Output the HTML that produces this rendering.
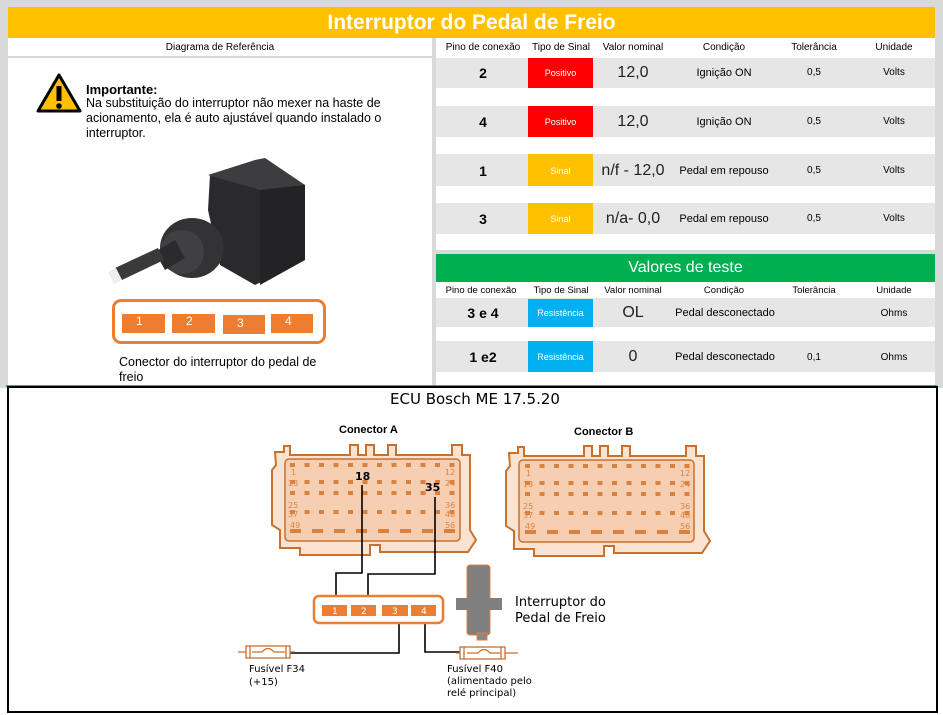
<!DOCTYPE html>
<html><head><meta charset="utf-8"><style>
body{margin:0;width:943px;height:715px;background:#fff;position:relative;overflow:hidden;font-family:"Liberation Sans",sans-serif}
.a{position:absolute}
.c{position:absolute;text-align:center}
.row{position:absolute;left:436px;width:499px;background:#e6e6e6}
.h{font-size:10px;top:42px}
</style></head><body>
<div class="a" style="left:0;top:0;width:943px;height:388px;background:#d9d9d9"></div>
<div class="a" style="left:8px;top:7px;width:927px;height:31px;background:#ffc000;color:#fff;font-size:21px;font-weight:bold;text-align:center;line-height:31px">Interruptor do Pedal de Freio</div>
<div class="a" style="left:8px;top:38px;width:424px;height:18px;background:#fff"></div>
<div class="a" style="left:436px;top:38px;width:499px;height:18px;background:#fff"></div>
<div class="a" style="left:8px;top:58px;width:424px;height:328px;background:#fff"></div>
<div class="a" style="left:436px;top:56px;width:499px;height:194px;background:#fff"></div>
<div class="c h" style="left:8px;width:424px">Diagrama de Referência</div>
<div class="c h" style="left:436px;width:94px">Pino de conexão</div>
<div class="c h" style="left:528px;width:66px">Tipo de Sinal</div>
<div class="c h" style="left:596px;width:74px">Valor nominal</div>
<div class="c h" style="left:680px;width:88px">Condição</div>
<div class="c h" style="left:780px;width:68px">Tolerância</div>
<div class="c h" style="left:860px;width:68px">Unidade</div>

<div class="row" style="top:58px;height:30px"></div>
<div class="row" style="top:106px;height:31px"></div>
<div class="row" style="top:154px;height:32px"></div>
<div class="row" style="top:203px;height:31px"></div>
<div class="a" style="left:528px;top:58px;width:65px;height:30px;background:#f00"></div>
<div class="a" style="left:528px;top:106px;width:65px;height:31px;background:#f00"></div>
<div class="a" style="left:528px;top:154px;width:65px;height:32px;background:#ffc000"></div>
<div class="a" style="left:528px;top:203px;width:65px;height:31px;background:#ffc000"></div>
<div style="font-size:14px;font-weight:bold">
<div class="c" style="left:436px;width:94px;top:65px">2</div>
<div class="c" style="left:436px;width:94px;top:114px">4</div>
<div class="c" style="left:436px;width:94px;top:163px">1</div>
<div class="c" style="left:436px;width:94px;top:211px">3</div></div>
<div style="font-size:9px;color:#fff">
<div class="c" style="left:528px;width:65px;top:68px">Positivo</div>
<div class="c" style="left:528px;width:65px;top:117px">Positivo</div>
<div class="c" style="left:528px;width:65px;top:166px">Sinal</div>
<div class="c" style="left:528px;width:65px;top:214px">Sinal</div></div>
<div style="font-size:16px;color:#222">
<div class="c" style="left:596px;width:74px;top:64px">12,0</div>
<div class="c" style="left:596px;width:74px;top:113px">12,0</div>
<div class="c" style="left:596px;width:74px;top:162px">n/f - 12,0</div>
<div class="c" style="left:596px;width:74px;top:210px">n/a- 0,0</div></div>
<div style="font-size:11px">
<div class="c" style="left:674px;width:100px;top:67px">Ignição ON</div>
<div class="c" style="left:674px;width:100px;top:116px">Ignição ON</div>
<div class="c" style="left:674px;width:100px;top:165px">Pedal em repouso</div>
<div class="c" style="left:674px;width:100px;top:213px">Pedal em repouso</div></div>
<div style="font-size:10px">
<div class="c" style="left:780px;width:68px;top:67px">0,5</div>
<div class="c" style="left:780px;width:68px;top:116px">0,5</div>
<div class="c" style="left:780px;width:68px;top:165px">0,5</div>
<div class="c" style="left:780px;width:68px;top:213px">0,5</div>
<div class="c" style="left:860px;width:68px;top:67px">Volts</div>
<div class="c" style="left:860px;width:68px;top:116px">Volts</div>
<div class="c" style="left:860px;width:68px;top:165px">Volts</div>
<div class="c" style="left:860px;width:68px;top:213px">Volts</div></div>

<div class="a" style="left:436px;top:254px;width:499px;height:28px;background:#00b050;color:#fff;font-size:16px;text-align:center;line-height:27px">Valores de teste</div>
<div class="a" style="left:436px;top:282px;width:499px;height:104px;background:#fff"></div>
<div style="font-size:9.5px">
<div class="c" style="left:436px;width:90px;top:285px">Pino de conexão</div>
<div class="c" style="left:528px;width:66px;top:285px">Tipo de Sinal</div>
<div class="c" style="left:596px;width:74px;top:285px">Valor nominal</div>
<div class="c" style="left:680px;width:88px;top:285px">Condição</div>
<div class="c" style="left:780px;width:68px;top:285px">Tolerância</div>
<div class="c" style="left:860px;width:68px;top:285px">Unidade</div></div>
<div class="row" style="top:298px;height:29px"></div>
<div class="row" style="top:341px;height:31px"></div>
<div class="a" style="left:528px;top:299px;width:65px;height:28px;background:#00b0f0"></div>
<div class="a" style="left:528px;top:341px;width:65px;height:31px;background:#00b0f0"></div>
<div class="c" style="left:436px;width:94px;top:305px;font-size:14px;font-weight:bold">3 e 4</div>
<div class="c" style="left:436px;width:94px;top:349px;font-size:14px;font-weight:bold">1 e2</div>
<div class="c" style="left:528px;width:65px;top:308px;font-size:9px;color:#fff">Resistência</div>
<div class="c" style="left:528px;width:65px;top:352px;font-size:9px;color:#fff">Resistência</div>
<div class="c" style="left:596px;width:74px;top:304px;font-size:16px;color:#222">OL</div>
<div class="c" style="left:596px;width:74px;top:348px;font-size:16px;color:#222">0</div>
<div class="c" style="left:664px;width:122px;top:307px;font-size:11px">Pedal desconectado</div>
<div class="c" style="left:664px;width:122px;top:351px;font-size:11px">Pedal desconectado</div>
<div class="c" style="left:780px;width:68px;top:352px;font-size:10px">0,1</div>
<div class="c" style="left:860px;width:68px;top:308px;font-size:10px">Ohms</div>
<div class="c" style="left:860px;width:68px;top:352px;font-size:10px">Ohms</div>

<svg class="a" style="left:36px;top:72px" width="46" height="42"><path d="M23 3 L44 39 L2 39 Z" fill="#ffc000" stroke="#000" stroke-width="3" stroke-linejoin="round"/><rect x="20.5" y="14" width="5" height="15" fill="#000"/><circle cx="23" cy="34" r="2.8" fill="#000"/></svg>
<div class="a" style="left:86px;top:82px;font-size:13px;font-weight:bold">Importante:</div>
<div class="a" style="left:86px;top:96px;font-size:12.5px;line-height:15px;width:320px">Na substituição do interruptor não mexer na haste de acionamento, ela é auto ajustável quando instalado o interruptor.</div>
<svg class="a" style="left:100px;top:140px" width="210" height="150">
<polygon points="110,35 160,22 205,45 205,120 155,145 120,125 108,70" fill="#2a2a2c"/>
<polygon points="108,35 155,20 165,18 205,45 160,50" fill="#3d3d40"/>
<polygon points="160,50 205,45 205,120 160,145" fill="#232325"/>
<ellipse cx="92" cy="108" rx="32" ry="30" fill="#333335"/>
<ellipse cx="82" cy="112" rx="22" ry="22" fill="#404043"/>
<polygon points="55,112 75,100 85,118 65,130" fill="#2b2b2d"/>
<polygon points="15,128 58,108 64,120 22,140" fill="#3a3a3c"/>
<polygon points="8,132 16,128 22,140 14,144" fill="#eee"/>
</svg>
<div class="a" style="left:112px;top:299px;width:214px;height:45px;border:3px solid #ed7d31;border-radius:9px;box-sizing:border-box"></div>
<div style="color:#fff;font-size:12px">
<div class="a" style="left:122px;top:314px;width:43px;height:19px;background:#ed7d31;line-height:15px;padding-left:14px;box-sizing:border-box">1</div>
<div class="a" style="left:172px;top:314px;width:43px;height:19px;background:#ed7d31;line-height:15px;padding-left:14px;box-sizing:border-box">2</div>
<div class="a" style="left:223px;top:315px;width:42px;height:19px;background:#ed7d31;line-height:17px;padding-left:14px;box-sizing:border-box">3</div>
<div class="a" style="left:271px;top:314px;width:42px;height:19px;background:#ed7d31;line-height:15px;padding-left:14px;box-sizing:border-box">4</div></div>
<div class="a" style="left:119px;top:355px;font-size:12.5px;line-height:15px;width:210px">Conector do interruptor do pedal de freio</div>

<div class="a" style="left:6px;top:385px;width:931px;height:2px;background:#00b0f0"></div>
<div class="a" style="left:7px;top:386px;width:931px;height:327px;border:2px solid #000;box-sizing:border-box;background:#fff"></div>
<div class="c" style="left:300px;width:350px;top:390px;font-size:15px;font-family:'DejaVu Sans',sans-serif">ECU Bosch ME 17.5.20</div>
<svg class="a" style="left:0;top:0" width="943" height="715" font-family="DejaVu Sans,sans-serif">
<g>
<path d="M275 452 L284 452 L284 446 L290 446 L290 455 L350 455 L350 445 L358 445 L358 455 L366 455 L366 445 L374 445 L374 455 L388 455 L388 445 L396 445 L396 455 L452 455 L452 445 L462 445 L462 455 L470 455 L470 530 L476 540 L468 552 L380 552 L380 545 L370 545 L370 555 L300 555 L300 548 L280 548 L280 530 L272 525 L272 470 L276 465 Z" fill="#fbe3d2" stroke="#c8712e" stroke-width="2"/>
<rect x="285" y="459" width="175" height="82" rx="4" fill="#f6cfb2" stroke="#c8712e" stroke-width="1.5"/>
</g>
<g transform="translate(234,1)">
<path d="M275 452 L284 452 L284 446 L290 446 L290 455 L350 455 L350 445 L358 445 L358 455 L366 455 L366 445 L374 445 L374 455 L388 455 L388 445 L396 445 L396 455 L452 455 L452 445 L462 445 L462 455 L470 455 L470 530 L476 540 L468 552 L380 552 L380 545 L370 545 L370 555 L300 555 L300 548 L280 548 L280 530 L272 525 L272 470 L276 465 Z" fill="#fbe3d2" stroke="#c8712e" stroke-width="2"/>
<rect x="285" y="459" width="175" height="82" rx="4" fill="#f6cfb2" stroke="#c8712e" stroke-width="1.5"/>
</g>
<defs><g id="pins" fill="#d9823f">
<g id="r"><rect x="0" y="0" width="5" height="4"/><rect x="14.5" y="0" width="5" height="4"/><rect x="29" y="0" width="5" height="4"/><rect x="43.5" y="0" width="5" height="4"/><rect x="58" y="0" width="5" height="4"/><rect x="72.5" y="0" width="5" height="4"/><rect x="87" y="0" width="5" height="4"/><rect x="101.5" y="0" width="5" height="4"/><rect x="116" y="0" width="5" height="4"/><rect x="130.5" y="0" width="5" height="4"/><rect x="145" y="0" width="5" height="4"/><rect x="159.5" y="0" width="5" height="4"/></g>
<use href="#r" y="17"/><use href="#r" y="28"/><use href="#r" y="47"/>
<rect x="0" y="66" width="11" height="4"/><rect x="22" y="66" width="11" height="4"/><rect x="44" y="66" width="11" height="4"/><rect x="66" y="66" width="11" height="4"/><rect x="88" y="66" width="11" height="4"/><rect x="110" y="66" width="11" height="4"/><rect x="132" y="66" width="11" height="4"/><rect x="154" y="66" width="11" height="4"/>
<g font-size="8" fill="#d9823f"><text x="1" y="12">1</text><text x="-2" y="23">13</text><text x="-2" y="45">25</text><text x="-2" y="54">37</text><text x="0" y="65">49</text><text x="155" y="12">12</text><text x="155" y="23">24</text><text x="155" y="45">36</text><text x="155" y="54">48</text><text x="155" y="65">56</text></g>
</g></defs>
<use href="#pins" x="290" y="463"/><use href="#pins" x="525" y="464"/>
<text x="339" y="433" font-size="11" font-weight="bold" font-family="Liberation Sans,sans-serif">Conector A</text>
<text x="574" y="435" font-size="11" font-weight="bold" font-family="Liberation Sans,sans-serif">Conector B</text>
<text x="355" y="480" font-size="11" font-weight="bold">18</text>
<text x="425" y="491" font-size="11" font-weight="bold">35</text>
<g stroke="#000" stroke-width="1.6" fill="none">
<polyline points="362,485 362,573 336,573 336,605"/>
<polyline points="435,497 435,574 368,574 368,605"/>
<polyline points="399,622 399,653 290,653"/>
<polyline points="425,622 425,652 460,652"/>
</g>
<rect x="314" y="596" width="129" height="27" rx="5" fill="#fff" stroke="#ed7d31" stroke-width="2.5"/>
<g fill="#ed7d31"><rect x="322" y="605" width="25" height="11"/><rect x="351" y="605" width="25" height="11"/><rect x="382" y="605" width="26" height="11"/><rect x="411" y="605" width="25" height="11"/></g>
<g fill="#fff" font-size="9"><text x="332" y="614">1</text><text x="361" y="614">2</text><text x="392" y="614">3</text><text x="421" y="614">4</text></g>
<rect x="467" y="565" width="23" height="70" rx="3" fill="#7f7f7f" stroke="#ed7d31" stroke-width="1"/>
<rect x="456" y="598" width="46" height="12" fill="#7f7f7f"/>
<rect x="477" y="633" width="10" height="7" fill="#888" stroke="#ed7d31" stroke-width="1"/>
<text x="515" y="606" font-size="13">Interruptor do</text>
<text x="515" y="622" font-size="13">Pedal de Freio</text>
<g stroke="#c8712e" stroke-width="1.3" fill="none">
<line x1="238" y1="652" x2="295" y2="652"/><rect x="246" y="646" width="44" height="12" fill="#fff"/><path d="M252 652 L262 652 Q268 645 274 652 L285 652"/><line x1="250" y1="646" x2="250" y2="658"/><line x1="286" y1="646" x2="286" y2="658"/>
<line x1="456" y1="653" x2="518" y2="653"/><rect x="460" y="647" width="45" height="12" fill="#fff"/><path d="M467 653 L478 653 Q484 646 490 653 L500 653"/><line x1="464" y1="647" x2="464" y2="659"/><line x1="501" y1="647" x2="501" y2="659"/>
</g>
<g font-size="10"><text x="249" y="672">Fusível F34</text><text x="249" y="685">(+15)</text>
<text x="447" y="672">Fusível F40</text><text x="447" y="684">(alimentado pelo</text><text x="447" y="696">relé principal)</text></g>
</svg>
</body></html>
